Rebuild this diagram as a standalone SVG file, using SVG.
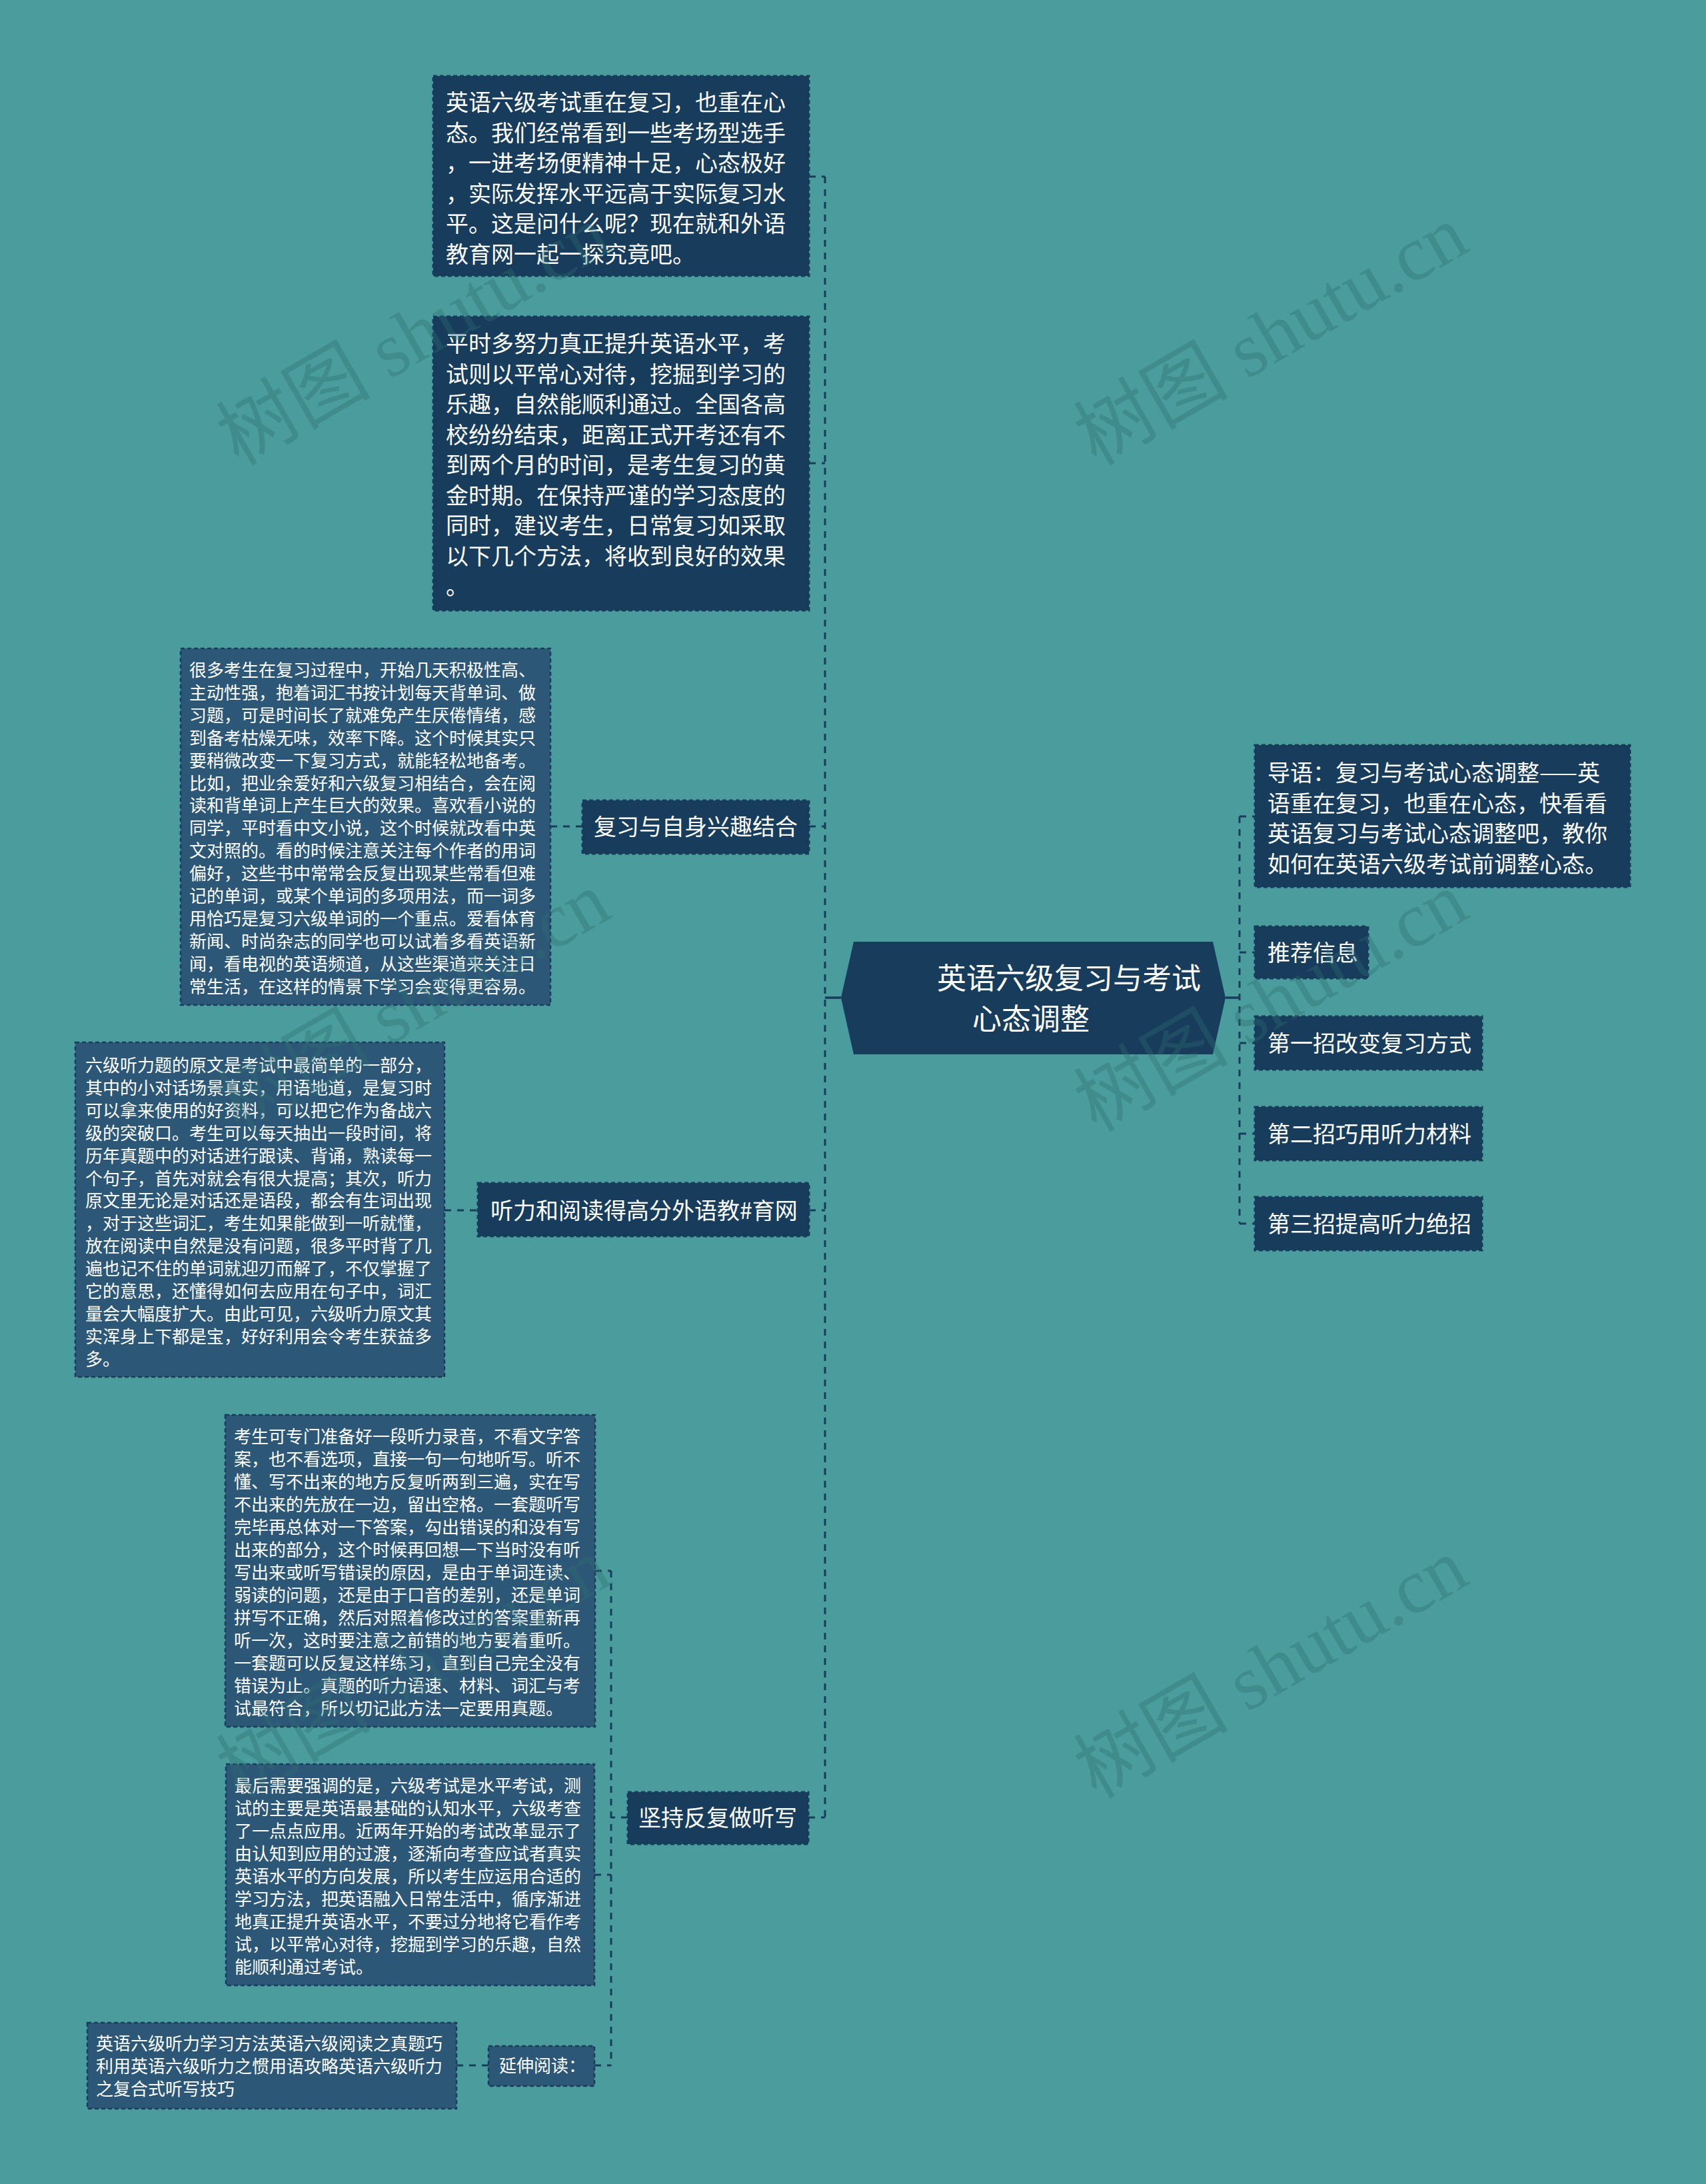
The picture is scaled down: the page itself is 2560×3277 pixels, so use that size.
<svg xmlns="http://www.w3.org/2000/svg" width="2560" height="3277" viewBox="0 0 2560 3277">
<defs>
<style>
.bg{fill:#4A9D9C}
.dark{fill:#173C5C;stroke:#173C5C;stroke-width:3;stroke-dasharray:6 4}
.leaf{fill:#2C5777;stroke:#1B3D5D;stroke-width:2.5;stroke-dasharray:6 4}
.t34{font-family:"Noto Sans CJK SC","Liberation Sans",sans-serif;font-size:34px;fill:#FFFFFF}
.t26{font-family:"Noto Sans CJK SC","Liberation Sans",sans-serif;font-size:26px;fill:#FFFFFF}
.t44{font-family:"Noto Sans CJK SC","Liberation Sans",sans-serif;font-size:44px;fill:#FFFFFF}
.conn{fill:none;stroke:#173C5C;stroke-width:3;stroke-dasharray:10 9}
.solid{fill:none;stroke:#173C5C;stroke-width:3.5}
.wm{font-family:"Liberation Serif","Noto Sans CJK SC",serif;font-size:116px;fill:#2F6F73;opacity:0.35}
</style>
</defs>
<rect class="bg" x="0" y="0" width="2560" height="3277"/>

<g id="connectors">
  <path class="conn" d="M1238 265 V2727"/>
  <path class="conn" d="M1214 265 H1238"/>
  <path class="conn" d="M1214 695 H1238"/>
  <path class="conn" d="M1214 1240 H1238"/>
  <path class="conn" d="M1214 1816 H1238"/>
  <path class="conn" d="M1213 2727 H1238"/>
  <path class="solid" d="M1238 1497 H1262"/>
  <path class="solid" d="M1839 1497 H1860"/>
  <path class="conn" d="M1860 1225 V1836"/>
  <path class="conn" d="M1860 1225 H1883"/>
  <path class="conn" d="M1860 1429 H1883"/>
  <path class="conn" d="M1860 1565 H1883"/>
  <path class="conn" d="M1860 1701 H1883"/>
  <path class="conn" d="M1860 1836 H1883"/>
  <path class="conn" d="M826 1240 H874"/>
  <path class="conn" d="M667 1816 H717"/>
  <path class="conn" d="M917 2357 V3099"/>
  <path class="conn" d="M942 2727 H917"/>
  <path class="conn" d="M893 2357 H917"/>
  <path class="conn" d="M892 2813 H917"/>
  <path class="conn" d="M892 3099 H917"/>
  <path class="conn" d="M685 3099 H733"/>
</g>

<g id="center">
  <polygon points="1262,1497 1281,1413 1820,1413 1839,1497 1820,1582 1281,1582" fill="#173C5C"/>
  <text class="t44"><tspan x="1406" y="1484">英语六级复习与考试</tspan><tspan x="1459" y="1545">心态调整</tspan></text>
</g>

<g id="node-intro">
  <rect class="dark" x="1883" y="1118" width="563" height="213"/>
  <text class="t34"><tspan x="1902" y="1172">导语：复习与考试心态调整——英</tspan><tspan x="1902" y="1217.5">语重在复习，也重在心态，快看看</tspan><tspan x="1902" y="1263">英语复习与考试心态调整吧，教你</tspan><tspan x="1902" y="1308.5">如何在英语六级考试前调整心态。</tspan></text>
</g>
<g id="node-recommend">
  <rect class="dark" x="1883" y="1390" width="170" height="78"/>
  <text class="t34" x="1902" y="1442">推荐信息</text>
</g>
<g id="node-tip1">
  <rect class="dark" x="1883" y="1525" width="341" height="80"/>
  <text class="t34" x="1902" y="1578">第一招改变复习方式</text>
</g>
<g id="node-tip2">
  <rect class="dark" x="1883" y="1661" width="341" height="80"/>
  <text class="t34" x="1902" y="1714">第二招巧用听力材料</text>
</g>
<g id="node-tip3">
  <rect class="dark" x="1883" y="1796" width="341" height="80"/>
  <text class="t34" x="1902" y="1849">第三招提高听力绝招</text>
</g>

<g id="node-a">
  <rect class="dark" x="650" y="114" width="564" height="300"/>
  <text class="t34"><tspan x="669" y="166">英语六级考试重在复习，也重在心</tspan><tspan x="669" y="211.5">态。我们经常看到一些考场型选手</tspan><tspan x="669" y="257">，一进考场便精神十足，心态极好</tspan><tspan x="669" y="302.5">，实际发挥水平远高于实际复习水</tspan><tspan x="669" y="348">平。这是问什么呢？现在就和外语</tspan><tspan x="669" y="393.5">教育网一起一探究竟吧。</tspan></text>
</g>

<g id="node-b">
  <rect class="dark" x="650" y="475" width="564" height="441"/>
  <text class="t34"><tspan x="669" y="528">平时多努力真正提升英语水平，考</tspan><tspan x="669" y="573.5">试则以平常心对待，挖掘到学习的</tspan><tspan x="669" y="619">乐趣，自然能顺利通过。全国各高</tspan><tspan x="669" y="664.5">校纷纷结束，距离正式开考还有不</tspan><tspan x="669" y="710">到两个月的时间，是考生复习的黄</tspan><tspan x="669" y="755.5">金时期。在保持严谨的学习态度的</tspan><tspan x="669" y="801">同时，建议考生，日常复习如采取</tspan><tspan x="669" y="846.5">以下几个方法，将收到良好的效果</tspan><tspan x="669" y="892">。</tspan></text>
</g>

<g id="node-c">
  <rect class="dark" x="874" y="1201" width="340" height="80"/>
  <text class="t34" x="891" y="1253">复习与自身兴趣结合</text>
</g>
<g id="node-c1">
  <rect class="leaf" x="271" y="973" width="555" height="535"/>
  <text class="t26"><tspan x="284" y="1015">很多考生在复习过程中，开始几天积极性高、</tspan><tspan x="284" y="1048.9">主动性强，抱着词汇书按计划每天背单词、做</tspan><tspan x="284" y="1082.8">习题，可是时间长了就难免产生厌倦情绪，感</tspan><tspan x="284" y="1116.7">到备考枯燥无味，效率下降。这个时候其实只</tspan><tspan x="284" y="1150.6">要稍微改变一下复习方式，就能轻松地备考。</tspan><tspan x="284" y="1184.5">比如，把业余爱好和六级复习相结合，会在阅</tspan><tspan x="284" y="1218.4">读和背单词上产生巨大的效果。喜欢看小说的</tspan><tspan x="284" y="1252.3">同学，平时看中文小说，这个时候就改看中英</tspan><tspan x="284" y="1286.2">文对照的。看的时候注意关注每个作者的用词</tspan><tspan x="284" y="1320.1">偏好，这些书中常常会反复出现某些常看但难</tspan><tspan x="284" y="1354">记的单词，或某个单词的多项用法，而一词多</tspan><tspan x="284" y="1387.9">用恰巧是复习六级单词的一个重点。爱看体育</tspan><tspan x="284" y="1421.8">新闻、时尚杂志的同学也可以试着多看英语新</tspan><tspan x="284" y="1455.7">闻，看电视的英语频道，从这些渠道来关注日</tspan><tspan x="284" y="1489.6">常生活，在这样的情景下学习会变得更容易。</tspan></text>
</g>

<g id="node-d">
  <rect class="dark" x="717" y="1775" width="497" height="80"/>
  <text class="t34" x="736" y="1829">听力和阅读得高分外语教#育网</text>
</g>
<g id="node-d1">
  <rect class="leaf" x="113" y="1564" width="554" height="502"/>
  <text class="t26"><tspan x="128" y="1608">六级听力题的原文是考试中最简单的一部分，</tspan><tspan x="128" y="1641.9">其中的小对话场景真实，用语地道，是复习时</tspan><tspan x="128" y="1675.8">可以拿来使用的好资料，可以把它作为备战六</tspan><tspan x="128" y="1709.7">级的突破口。考生可以每天抽出一段时间，将</tspan><tspan x="128" y="1743.6">历年真题中的对话进行跟读、背诵，熟读每一</tspan><tspan x="128" y="1777.5">个句子，首先对就会有很大提高；其次，听力</tspan><tspan x="128" y="1811.4">原文里无论是对话还是语段，都会有生词出现</tspan><tspan x="128" y="1845.3">，对于这些词汇，考生如果能做到一听就懂，</tspan><tspan x="128" y="1879.2">放在阅读中自然是没有问题，很多平时背了几</tspan><tspan x="128" y="1913.1">遍也记不住的单词就迎刃而解了，不仅掌握了</tspan><tspan x="128" y="1947">它的意思，还懂得如何去应用在句子中，词汇</tspan><tspan x="128" y="1980.9">量会大幅度扩大。由此可见，六级听力原文其</tspan><tspan x="128" y="2014.8">实浑身上下都是宝，好好利用会令考生获益多</tspan><tspan x="128" y="2048.7">多。</tspan></text>
</g>

<g id="node-e">
  <rect class="dark" x="942" y="2689" width="271" height="78"/>
  <text class="t34" x="958" y="2740">坚持反复做听写</text>
</g>
<g id="node-e1">
  <rect class="leaf" x="338" y="2123" width="555" height="468"/>
  <text class="t26"><tspan x="351" y="2165">考生可专门准备好一段听力录音，不看文字答</tspan><tspan x="351" y="2199">案，也不看选项，直接一句一句地听写。听不</tspan><tspan x="351" y="2233">懂、写不出来的地方反复听两到三遍，实在写</tspan><tspan x="351" y="2267">不出来的先放在一边，留出空格。一套题听写</tspan><tspan x="351" y="2301">完毕再总体对一下答案，勾出错误的和没有写</tspan><tspan x="351" y="2335">出来的部分，这个时候再回想一下当时没有听</tspan><tspan x="351" y="2369">写出来或听写错误的原因，是由于单词连读、</tspan><tspan x="351" y="2403">弱读的问题，还是由于口音的差别，还是单词</tspan><tspan x="351" y="2437">拼写不正确，然后对照着修改过的答案重新再</tspan><tspan x="351" y="2471">听一次，这时要注意之前错的地方要着重听。</tspan><tspan x="351" y="2505">一套题可以反复这样练习，直到自己完全没有</tspan><tspan x="351" y="2539">错误为止。真题的听力语速、材料、词汇与考</tspan><tspan x="351" y="2573">试最符合，所以切记此方法一定要用真题。</tspan></text>
</g>
<g id="node-e2">
  <rect class="leaf" x="339" y="2647" width="553" height="332"/>
  <text class="t26"><tspan x="352" y="2689">最后需要强调的是，六级考试是水平考试，测</tspan><tspan x="352" y="2723">试的主要是英语最基础的认知水平，六级考查</tspan><tspan x="352" y="2757">了一点点应用。近两年开始的考试改革显示了</tspan><tspan x="352" y="2791">由认知到应用的过渡，逐渐向考查应试者真实</tspan><tspan x="352" y="2825">英语水平的方向发展，所以考生应运用合适的</tspan><tspan x="352" y="2859">学习方法，把英语融入日常生活中，循序渐进</tspan><tspan x="352" y="2893">地真正提升英语水平，不要过分地将它看作考</tspan><tspan x="352" y="2927">试，以平常心对待，挖掘到学习的乐趣，自然</tspan><tspan x="352" y="2961">能顺利通过考试。</tspan></text>
</g>
<g id="node-e3">
  <rect class="leaf" x="733" y="3070" width="159" height="60"/>
  <text class="t26" x="749" y="3109">延伸阅读：</text>
</g>
<g id="node-e3-leaf">
  <rect class="leaf" x="131" y="3035" width="554" height="129"/>
  <text class="t26"><tspan x="144" y="3076">英语六级听力学习方法英语六级阅读之真题巧</tspan><tspan x="144" y="3110">利用英语六级听力之惯用语攻略英语六级听力</tspan><tspan x="144" y="3144">之复合式听写技巧</tspan></text>
</g>

<g id="watermarks">
  <text class="wm" transform="translate(358 700) rotate(-30)">树图 shutu.cn</text>
  <text class="wm" transform="translate(1645 700) rotate(-30)">树图 shutu.cn</text>
  <text class="wm" transform="translate(358 1700) rotate(-30)">树图 shutu.cn</text>
  <text class="wm" transform="translate(1645 1700) rotate(-30)">树图 shutu.cn</text>
  <text class="wm" transform="translate(358 2700) rotate(-30)">树图 shutu.cn</text>
  <text class="wm" transform="translate(1645 2700) rotate(-30)">树图 shutu.cn</text>
</g>
</svg>
